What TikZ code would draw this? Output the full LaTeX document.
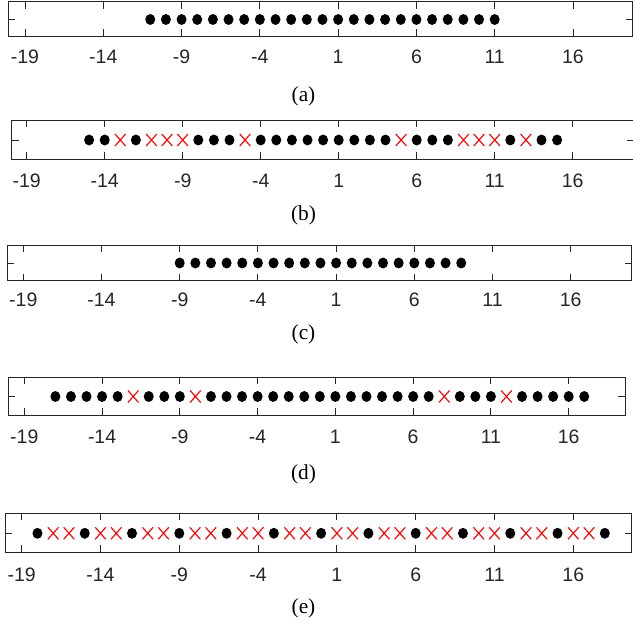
\documentclass[tikz,border=0pt]{standalone}
\usepackage{fontspec}
\setmainfont{Liberation Serif}
\newfontfamily\axfont{Liberation Sans}
\definecolor{axgray}{RGB}{38,38,38}
\tikzset{
  axline/.style={draw=axgray, line width=0.7pt},
  ticklab/.style={text=axgray, font=\axfont\fontsize{14.6}{16}\selectfont, inner sep=0pt},
  caplab/.style={text=black, font=\fontsize{16}{18}\selectfont, inner sep=0pt},
  xmark/.style={draw=red, line width=0.85pt},
}
% #1 top, #2 bottom, #3 left, #4 right, #5 dots y, #6 label y, #7 caption y, #8 caption
\newcommand\mypanel[8]{%
  \draw[axline] (#3,#1) rectangle (#4,#2);
  \foreach \t in {-19,-14,...,16} {
    \draw[axline] ({\xa+(\t+19)*\sc},#1) -- ++(0,7);
    \draw[axline] ({\xa+(\t+19)*\sc},#2) -- ++(0,-7);
    \node[ticklab] at ({\xa+(\t+19)*\sc},#6) {\t};
  }
  \draw[axline] (#3,#5) -- ++(7,0);
  \draw[axline] (#4,#5) -- ++(-7,0);
  \node[caplab] at (303.5,#7) {#8};
}
\newcommand\mydots[2]{%
  \foreach \v in {#1} {\fill[black] ({\xa+(\v+19)*\sc},#2) ellipse (3.75pt and 4.1pt);}
}
\newcommand\mycross[2]{%
  \foreach \v in {#1} {\draw[xmark,shift={({\xa+(\v+19)*\sc},#2)}] (-5.3,-6) -- (5.3,6) (-5.3,6) -- (5.3,-6);}
}
\begin{document}
\begin{tikzpicture}[x=0.75pt,y=-0.75pt]
\path[fill=white,use as bounding box] (0,0) rectangle (633,624);
% (a)
\def\xa{25}\def\sc{15.657}
\mypanel{1.7}{36}{8.3}{632.5}{19.5}{56.5}{96.5}{(a)}
\mydots{-11,...,11}{19.5}
% (b)
\def\xa{26.7}\def\sc{15.6}
\mypanel{120}{159.3}{11.7}{634}{140}{181}{215.5}{(b)}
\mydots{-15,-14,-12,-8,-7,-6,-4,-3,-2,-1,0,1,2,3,4,6,7,8,12,14,15}{140}
\mycross{-13,-11,-10,-9,-5,5,9,10,11,13}{140}
% (c)
\def\xa{23.3}\def\sc{15.64}
\mypanel{245}{280.7}{7.3}{631.7}{263}{300}{334}{(c)}
\mydots{-9,...,9}{263}
% (d)
\def\xa{24.3}\def\sc{15.554}
\mypanel{377.3}{415}{8.3}{625}{396.5}{437}{474}{(d)}
\mydots{-17,-16,-15,-14,-13,-11,-10,-9,-7,-6,-5,-4,-3,-2,-1,0,1,2,3,4,5,6,7,9,10,11,13,14,15,16,17}{396.5}
\mycross{-12,-8,8,12}{396.5}
% (e)
\def\xa{21.7}\def\sc{15.76}
\mypanel{513.3}{552.3}{5}{631.7}{533.3}{574.5}{608}{(e)}
\mydots{-18,-15,...,18}{533.3}
\mycross{-17,-16,-14,-13,-11,-10,-8,-7,-5,-4,-2,-1,1,2,4,5,7,8,10,11,13,14,16,17}{533.3}
\end{tikzpicture}
\end{document}
